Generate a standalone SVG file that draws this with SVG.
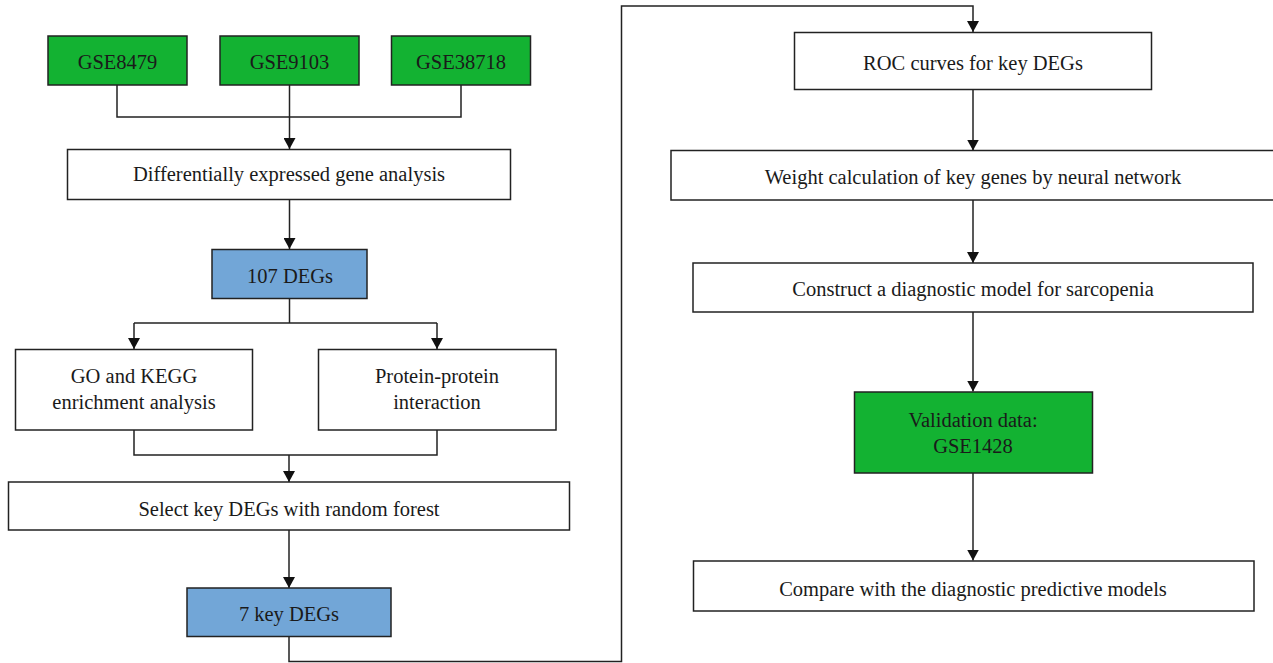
<svg xmlns="http://www.w3.org/2000/svg" width="1273" height="663" viewBox="0 0 1273 663">
<style>
.box{stroke:#222;stroke-width:1.5}
.w{fill:#fff}
.g{fill:#13b232}
.b{fill:#72a6d7}
text{font-family:"Liberation Serif","Times New Roman",serif;font-size:20.5px;fill:#1a1a1a;text-anchor:middle;dominant-baseline:central}
.c{fill:none;stroke:#222;stroke-width:1.5}
</style>
<defs>
<marker id="ah" viewBox="0 0 11 12" refX="11" refY="6" markerWidth="11" markerHeight="12" markerUnits="userSpaceOnUse" orient="auto">
<path d="M0,0 L11,6 L0,12 z" fill="#111"/>
</marker>
</defs>
<rect width="1273" height="663" fill="#fff"/>
<g id="connectors">
<polyline class="c" points="117,85 117,117 461,117 461,85"/>
<line class="c" x1="289.5" y1="85" x2="289.5" y2="149" marker-end="url(#ah)"/>
<line class="c" x1="289.5" y1="199" x2="289.5" y2="249" marker-end="url(#ah)"/>
<polyline class="c" points="289.5,298 289.5,323"/>
<polyline class="c" points="134,323 437,323"/>
<line class="c" x1="134" y1="323" x2="134" y2="349" marker-end="url(#ah)"/>
<line class="c" x1="437" y1="323" x2="437" y2="349" marker-end="url(#ah)"/>
<polyline class="c" points="134,430 134,455 437,455 437,430"/>
<line class="c" x1="289" y1="455" x2="289" y2="482" marker-end="url(#ah)"/>
<line class="c" x1="289" y1="530" x2="289" y2="588" marker-end="url(#ah)"/>
<polyline class="c" points="289,636 289,661.5 621.5,661.5 621.5,6 973,6 973,32" marker-end="url(#ah)"/>
<line class="c" x1="973" y1="89" x2="973" y2="150.5" marker-end="url(#ah)"/>
<line class="c" x1="973" y1="200" x2="973" y2="263" marker-end="url(#ah)"/>
<line class="c" x1="973" y1="312" x2="973" y2="391.5" marker-end="url(#ah)"/>
<line class="c" x1="973" y1="473" x2="973" y2="560.5" marker-end="url(#ah)"/>
</g>
<g id="gse8479"><rect class="box g" x="48" y="36" width="139" height="49"/><text x="117.5" y="62">GSE8479</text></g>
<g id="gse9103"><rect class="box g" x="220" y="36" width="139" height="49"/><text x="289.5" y="62">GSE9103</text></g>
<g id="gse38718"><rect class="box g" x="391.5" y="36" width="139" height="49"/><text x="461" y="62">GSE38718</text></g>
<g id="dega"><rect class="box w" x="67.5" y="149.5" width="443" height="50"/><text x="289" y="173.5">Differentially expressed gene analysis</text></g>
<g id="degs107"><rect class="box b" x="212" y="249.5" width="155" height="49"/><text x="290" y="276">107 DEGs</text></g>
<g id="gokegg"><rect class="box w" x="15.5" y="349.5" width="237" height="80.5"/><text x="134" y="376">GO and KEGG</text><text x="134" y="401.5">enrichment analysis</text></g>
<g id="ppi"><rect class="box w" x="318.5" y="349.5" width="237.5" height="80.5"/><text x="437" y="376">Protein-protein</text><text x="437" y="401.5">interaction</text></g>
<g id="select"><rect class="box w" x="8.5" y="482" width="561" height="48"/><text x="289" y="508.5">Select key DEGs with random forest</text></g>
<g id="keydegs"><rect class="box b" x="187" y="588" width="204" height="48.5"/><text x="289" y="613.5">7 key DEGs</text></g>
<g id="roc"><rect class="box w" x="794.5" y="32.5" width="357" height="57"/><text x="973" y="63">ROC curves for key DEGs</text></g>
<g id="weight"><rect class="box w" x="671" y="150.5" width="610" height="49.5"/><text x="973" y="177">Weight calculation of key genes by neural network</text></g>
<g id="construct"><rect class="box w" x="693" y="263" width="560" height="49"/><text x="973" y="289">Construct a diagnostic model for sarcopenia</text></g>
<g id="validation"><rect class="box g" x="854.5" y="392" width="238" height="81"/><text x="973" y="420">Validation data:</text><text x="973" y="446">GSE1428</text></g>
<g id="compare"><rect class="box w" x="693.5" y="561" width="560.5" height="50"/><text x="973" y="589">Compare with the diagnostic predictive models</text></g>
</svg>
